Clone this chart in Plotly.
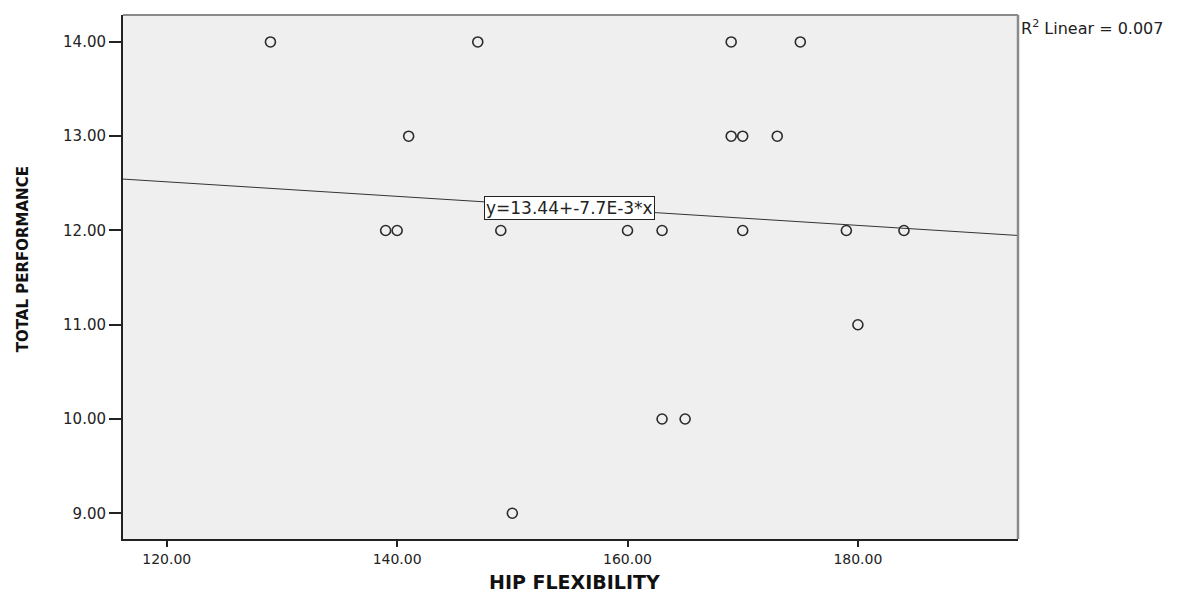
import plotly.graph_objects as go

# Data
hip_flexibility = [129, 147, 169, 175, 141, 169, 170, 173, 139, 140, 149, 160, 163, 170, 179, 184, 180, 163, 165, 150]
total_performance = [14, 14, 14, 14, 13, 13, 13, 13, 12, 12, 12, 12, 12, 12, 12, 12, 11, 10, 10, 9]

intercept = 13.44
slope = -7.7e-3
r_squared = 0.007

x_range = [116.2, 193.9]
y_range = [8.727, 14.286]
x_ticks = [120, 140, 160, 180]
y_ticks = [9, 10, 11, 12, 13, 14]

fit_x = x_range
fit_y = [intercept + slope * v for v in fit_x]

fig = go.Figure()
fig.add_trace(go.Scatter(
    x=fit_x, y=fit_y, mode="lines",
    line=dict(color="#333333", width=1), hoverinfo="skip", showlegend=False,
))
fig.add_trace(go.Scatter(
    x=hip_flexibility, y=total_performance, mode="markers",
    marker=dict(symbol="circle-open", size=10, color="#2a2a2a", line=dict(width=1.6)),
    showlegend=False,
))

tick_font = dict(family="DejaVu Sans, Liberation Sans, sans-serif", size=15, color="#222222")

fig.update_layout(
    width=1181, height=592,
    margin=dict(l=123, r=163, t=15, b=53),
    paper_bgcolor="white",
    plot_bgcolor="#efefef",
    xaxis=dict(
        range=x_range, tickvals=x_ticks, tickformat=".2f",
        showgrid=False, zeroline=False,
        showline=True, linecolor="#222222", linewidth=2,
        ticks="outside", ticklen=6, tickwidth=2, tickcolor="#222222",
        tickfont=dict(family="DejaVu Sans, Liberation Sans, sans-serif", size=14, color="#222222"),
    ),
    yaxis=dict(
        range=y_range, tickvals=y_ticks, tickformat=".2f",
        showgrid=False, zeroline=False,
        showline=True, linecolor="#222222", linewidth=2,
        ticks="outside", ticklen=12, tickwidth=2, tickcolor="#222222",
        tickfont=tick_font,
    ),
    shapes=[
        dict(type="line", xref="paper", yref="paper", x0=0, x1=1, y0=1, y1=1,
             line=dict(color="#8a8a8a", width=2)),
        dict(type="line", xref="paper", yref="paper", x0=1, x1=1, y0=0, y1=1,
             line=dict(color="#8a8a8a", width=2.5)),
    ],
    annotations=[
        dict(text="y=13.44+-7.7E-3*x", x=155.0, y=12.24, xref="x", yref="y",
             showarrow=False, bgcolor="white", bordercolor="#222222", borderwidth=1,
             borderpad=1,
             font=dict(family="DejaVu Sans, Liberation Sans, sans-serif", size=17, color="#222222")),
        dict(text="R<sup>2</sup> Linear = " + f"{r_squared:.3f}", x=1.001, y=0.977,
             xref="paper", yref="paper", xanchor="left", yanchor="middle", showarrow=False,
             font=dict(family="DejaVu Sans, Liberation Sans, sans-serif", size=16, color="#222222")),
        dict(text="<b>TOTAL PERFORMANCE</b>", x=-0.1117, y=0.534, xref="paper", yref="paper",
             xanchor="center", yanchor="middle", textangle=-90, showarrow=False,
             font=dict(family="DejaVu Sans, Liberation Sans, sans-serif",
                       size=15, color="#111111")),
        dict(text="<b>HIP FLEXIBILITY</b>", x=0.505, y=-0.083, xref="paper", yref="paper",
             xanchor="center", yanchor="middle", showarrow=False,
             font=dict(family="DejaVu Sans, Liberation Sans, sans-serif", size=19, color="#111111")),
    ],
)

fig.write_html("out.html")
